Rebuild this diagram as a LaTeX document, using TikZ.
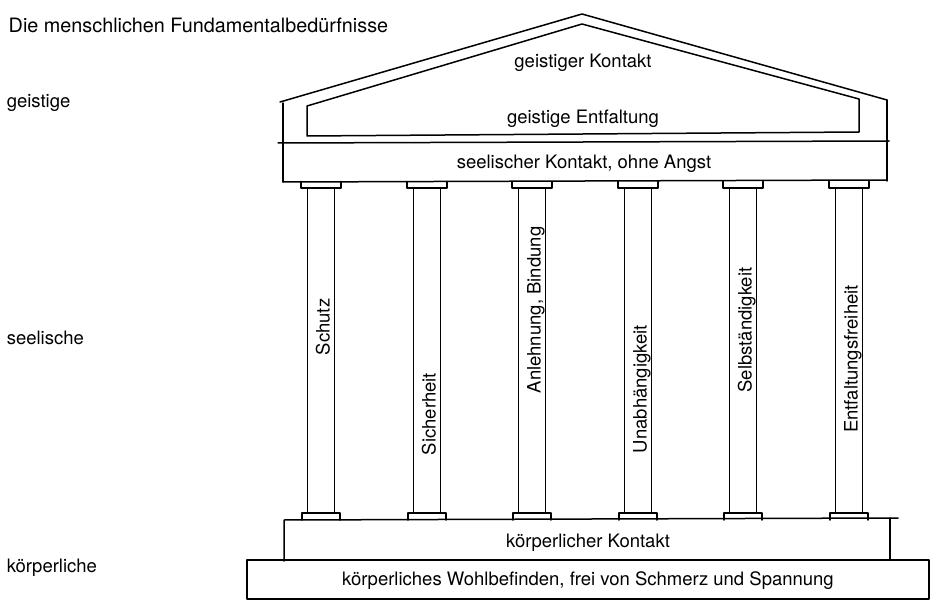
\documentclass[tikz,border=0pt]{standalone}
\usepackage{fontspec}
\setmainfont{TeX Gyre Heros}
\begin{document}
\begin{tikzpicture}[x=1pt,y=-1pt,line width=1.5pt,line join=round,line cap=round,
  lbl/.style={font=\fontsize{18.5}{22}\selectfont,inner sep=0pt,text height=13.3pt,text depth=0pt},
  sidelbl/.style={lbl,anchor=west},
  coltxt/.style={lbl,rotate=90}]
\useasboundingbox (0,0) rectangle (930,607);
% title and level labels
\node[font=\fontsize{19.8}{24}\selectfont,inner sep=0pt,anchor=base west] (title) at (8,33) {Die menschlichen Fundamentalbedürfnisse};
\node[sidelbl] (lgeist) at (6,101) {geistige};
\node[sidelbl] (lseel) at (6,338) {seelische};
\node[sidelbl] (lkoerp) at (6,566) {körperliche};
% pediment
\draw (280,102) -- (582,14) -- (887,100);
\draw (283,103) -- (283,182);
\draw (887,100) -- (887,181);
\draw (278,143) -- (889,141);
\draw (283,182) -- (887,180);
\draw (307,136) -- (307,106) -- (582,24) -- (859,99) -- (859,132) -- cycle;
\node[lbl] (gk) at (583,61) {geistiger Kontakt};
\node[lbl] (ge) at (583,117) {geistige Entfaltung};
\node[lbl] (sk) at (584,162) {seelischer Kontakt, ohne Angst};
% columns
\foreach \i/\t/\ty in {0/Schutz/327,1/Sicherheit/414,2/{Anlehnung, Bindung}/310,3/Unabhängigkeit/389,4/Selbständigkeit/330,5/Entfaltungsfreiheit/359}{
  \pgfmathtruncatemacro\cx{321+105.6*\i+0.5}
  \draw (\cx-20,181.5) -- (\cx-20,188) -- (\cx+20,188) -- (\cx+20,181.5);
  \draw (\cx-13.5,188) -- (\cx-13.5,513);
  \draw (\cx+13.5,188) -- (\cx+13.5,513);
  \draw (\cx-19,520) -- (\cx-19,513) -- (\cx+19,513) -- (\cx+19,520);
  \node[coltxt] (col\i) at (\cx+2,\ty) {\t};
}
% base
\draw (284,561) -- (284,520) -- (898,518);
\draw (890,518) -- (890,560);
\node[lbl] (kk) at (588,541) {körperlicher Kontakt};
\draw (247,560) rectangle (929,599);
\node[lbl] (kw) at (588,579) {körperliches Wohlbefinden, frei von Schmerz und Spannung};
\end{tikzpicture}
\end{document}
